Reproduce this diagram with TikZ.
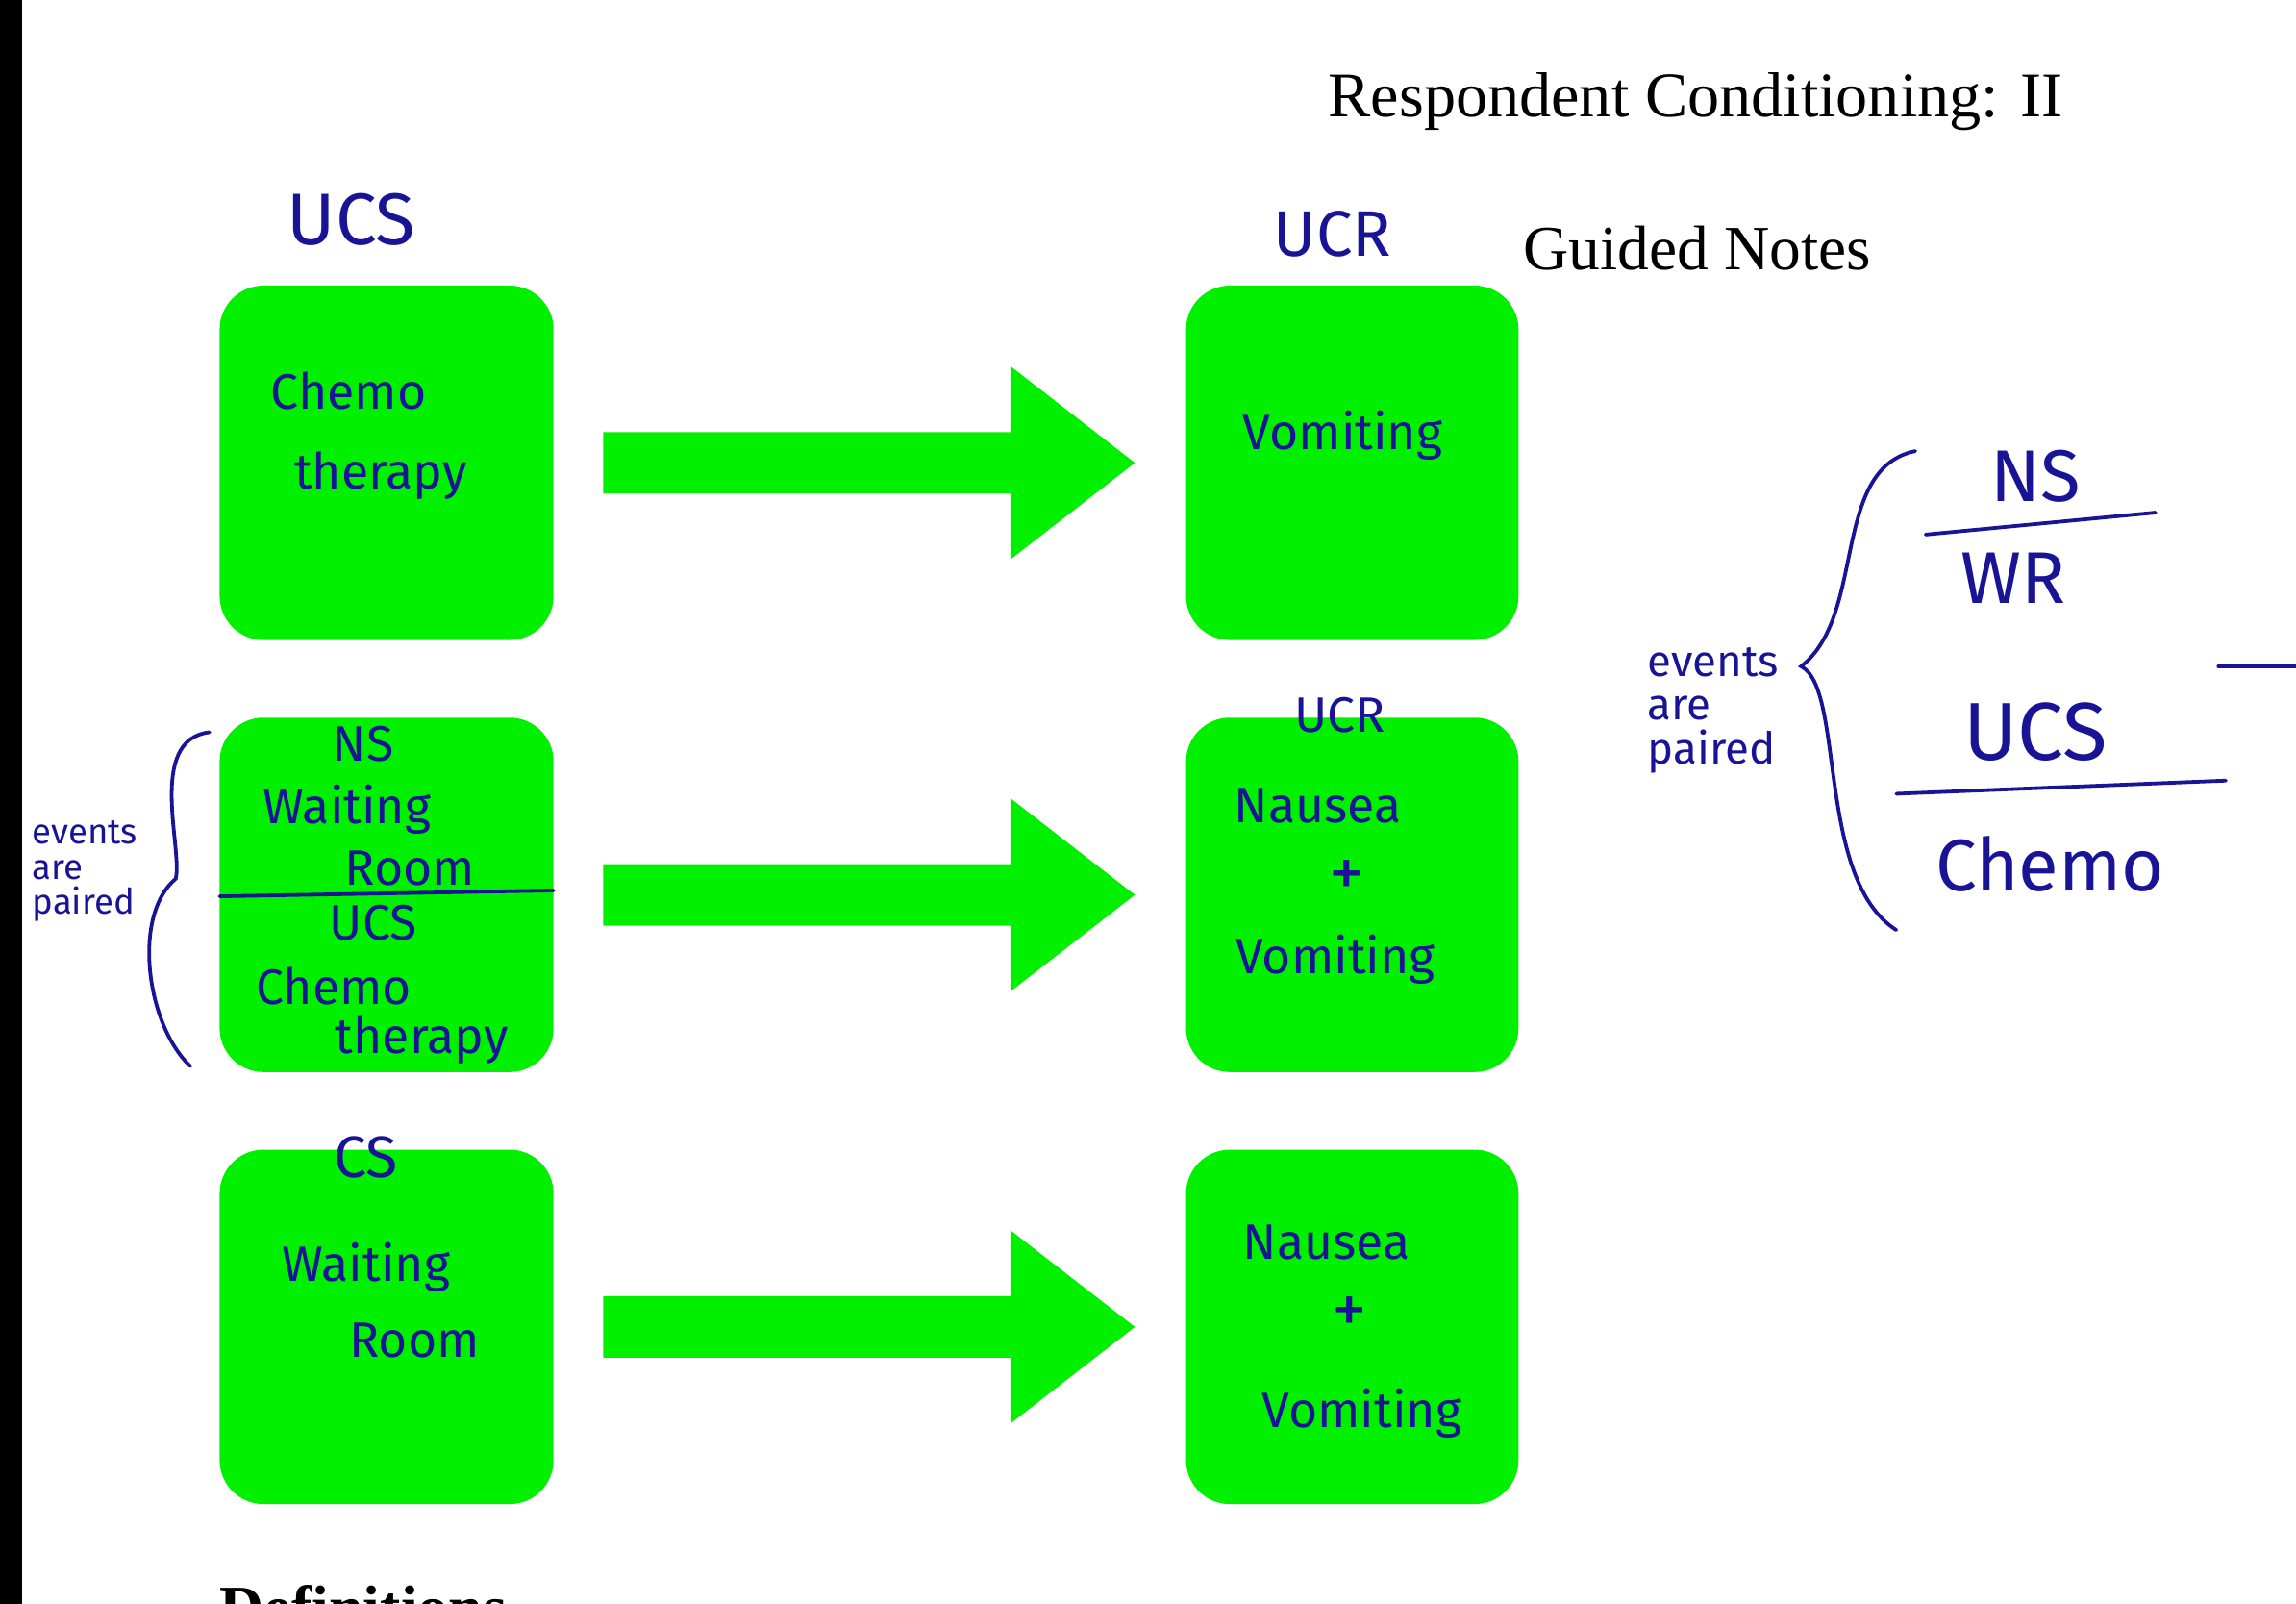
\documentclass[tikz,border=0pt]{standalone}
\usepackage{fontspec}
\setmainfont{Liberation Serif}
\newfontfamily\hand{Fira Sans}
\definecolor{gr}{RGB}{0,240,0}
\definecolor{ink}{RGB}{25,20,150}
\begin{document}
\begin{tikzpicture}[x=1pt,y=-1pt,
  box/.style={fill=gr,rounded corners=30pt},
  hw/.style={text=ink,font=\hand\fontsize{#1}{#1}\selectfont,inner sep=0},
  hw/.default=34,
  pen/.style={draw=ink,line width=2.5pt,line cap=round},
  arr/.style={fill=gr}]
\clip (0,0) rectangle (1568,1095);
\fill[white] (0,0) rectangle (1568,1095);
\fill[black] (0,0) rectangle (15,1095);
\foreach \r/\y in {a/195,b/490,c/785}{
  \fill[box] (150,\y) rectangle (378,\y+242);
  \fill[box] (810,\y) rectangle (1037,\y+242);
  \fill[arr] (412,\y+100) -- (690,\y+100) -- (690,\y+55) -- (775,\y+121) -- (690,\y+187) -- (690,\y+142) -- (412,\y+142) -- cycle;
}
\node[font=\fontsize{43.5}{43.5}\selectfont,anchor=base west,inner sep=0] (title) at (907,80) {Respondent Conditioning: II};
\node[font=\fontsize{43}{43}\selectfont,anchor=base west,inner sep=0] (gn) at (1040,184) {Guided Notes};
\node[font=\bfseries\fontsize{42}{42}\selectfont,anchor=base west,inner sep=0] (def) at (150,1112) {Definitions};
% row 1
\node[hw=50] (l1) at (240,150) {UCS};
\node[hw=44] (l2) at (910,160) {UCR};
\node[hw] (t1) at (238,267) {Chemo};
\node[hw] (t2) at (260,325) {therapy};
\node[hw] (t3) at (917,297) {Vomiting};
% row 2
\node[hw] (t4) at (248,508) {NS};
\node[hw] (t5) at (237,553) {Waiting};
\node[hw] (t6) at (280,593) {Room};
\draw[pen] (150,612) -- (378,608);
\node[hw] (t7) at (255,630) {UCS};
\node[hw] (t8) at (228,673) {Chemo};
\node[hw] (t9) at (288,710) {therapy};
\node[hw] (t10) at (915,488) {UCR};
\node[hw] (t11) at (900,550) {Nausea};
\node[hw=48] (t12) at (920,600) {+};
\node[hw] (t13) at (912,655) {Vomiting};
% row 3
\node[hw=40] (t14) at (250,790) {CS};
\node[hw] (t15) at (250,865) {Waiting};
\node[hw] (t16) at (283,915) {Room};
\node[hw] (t17) at (906,848) {Nausea};
\node[hw=48] (t18) at (922,898) {+};
\node[hw] (t19) at (930,965) {Vomiting};
% left annotation
\node[hw=24,align=left] (ev1) at (58,595) {events\\are\\paired};
\draw[pen] (143,500) .. controls (100,505) and (125,580) .. (120,600) .. controls (90,625) and (100,700) .. (130,728);
% right annotation
\node[hw=30,align=left] (ev2) at (1170,485) {events\\are\\paired};
\draw[pen] (1308,308) .. controls (1250,320) and (1275,420) .. (1230,455) .. controls (1260,470) and (1240,600) .. (1295,635);
\node[hw=50] (ns) at (1390,325) {NS};
\draw[pen] (1315,365) -- (1472,350);
\node[hw=50] (wr) at (1375,395) {WR};
\node[hw=56] (ucs) at (1390,500) {UCS};
\draw[pen] (1295,542) -- (1520,533);
\node[hw=50] (ch) at (1400,590) {Chemo};
\draw[pen] (1515,455) -- (1568,455);
\end{tikzpicture}
\end{document}
